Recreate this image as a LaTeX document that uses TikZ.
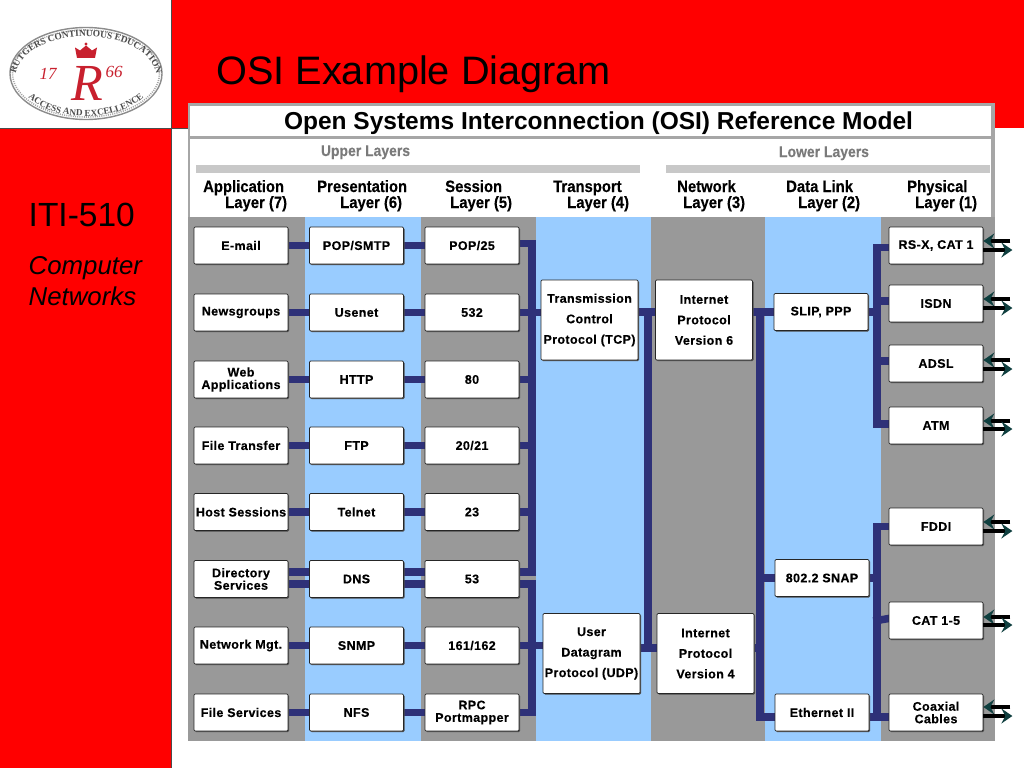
\documentclass[tikz,border=0pt]{standalone}
\usepackage{fontspec}
\setmainfont{Liberation Sans}
\newfontfamily\lab[LetterSpace=3,FakeBold=0.3]{Liberation Sans Bold}
\newfontfamily\hdrf[FakeStretch=0.9,FakeBold=0.2]{Liberation Sans Bold}
\newfontfamily\logof{Liberation Serif}
\usetikzlibrary{arrows.meta,shadows,decorations.text}
\pgfdeclarelayer{bglayer}
\pgfdeclarelayer{wirelayer}
\pgfsetlayers{bglayer,wirelayer,main}
\definecolor{slidered}{HTML}{FF0000}
\definecolor{colgray}{HTML}{999999}
\definecolor{colblue}{HTML}{99CCFF}
\definecolor{framegray}{HTML}{A6A6A6}
\definecolor{bargray}{HTML}{C8C8C8}
\definecolor{wire}{HTML}{2E3178}
\definecolor{tealtip}{HTML}{0F3F3F}
\definecolor{logored}{HTML}{C8202E}
\tikzset{
  osibox/.style={draw=black!85,line width=0.7pt,fill=white,rounded corners=1.2pt,
    inner sep=0pt,align=center,text=black,font=\lab\fontsize{12.5}{14.5}\selectfont,
    general shadow={shadow xshift=1pt,shadow yshift=-1pt,fill=black!70,rounded corners=1.2pt}},
  pbox/.style={osibox,minimum width=94pt,minimum height=37pt},
  tall/.style={osibox,minimum width=97pt,minimum height=80pt,font=\lab\fontsize{12.5}{20.5}\selectfont},
  hdr/.style={anchor=base west,inner sep=0pt,align=left,font=\hdrf\fontsize{16.5}{16}\selectfont},
  sub/.style={anchor=base,inner sep=0pt,text=black!52,font=\hdrf\fontsize{15.5}{16}\selectfont},
  link/.style={draw=wire,line width=7.5pt,line join=miter,line cap=rect},
  sig/.style={draw=black,line width=3.5pt,-{Stealth[length=11pt,width=15pt,inset=4pt,color=tealtip]}},
  slidetxt/.style={anchor=base west,inner sep=0pt,text=black},
  logotext/.style={decorate,decoration={text along path,text align=center,raise=0pt}},
}
\newcommand{\sigpair}[3]{%
  \draw[sig] ([yshift=#2]#1.east) ++(27pt,0) -- ([yshift=#2]#1.east);
  \draw[sig] ([yshift=#3]#1.east) -- ++(29pt,0);
}
\begin{document}
\begin{tikzpicture}[x=1pt,y=-1pt]
\useasboundingbox (0,0) rectangle (1024,768);
\begin{pgfonlayer}{bglayer}
\fill[white] (0,0) rectangle (1024,768);
\fill[slidered] (171,0) rectangle (1024,128);
\fill[slidered] (0,128) rectangle (171,768);
\draw[black!70,line width=0.6pt] (171,0) -- (171,768) (0,128) -- (188,128);
\fill[framegray] (188,103) rectangle (995,217);
\fill[white] (190,106) rectangle (991,136);
\fill[white] (190,139) rectangle (991,217);
\fill[bargray] (196,165) rectangle (640,173);
\fill[bargray] (666,165) rectangle (990,173);
\fill[colgray] (188,217) rectangle (305,741);
\fill[colblue] (305,217) rectangle (421,741);
\fill[colgray] (421,217) rectangle (536,741);
\fill[colblue] (536,217) rectangle (651,741);
\fill[colgray] (651,217) rectangle (765,741);
\fill[colblue] (765,217) rectangle (881,741);
\fill[colgray] (881,217) rectangle (995,741);
\end{pgfonlayer}
\node[slidetxt,font=\fontsize{39.7}{40}\selectfont] (title) at (216,84) {OSI Example Diagram};
\node[slidetxt,font=\fontsize{33.5}{36}\selectfont] (course) at (28.5,226) {ITI-510};
\node[slidetxt,font=\itshape\fontsize{25.8}{31}\selectfont] (cname) at (28.5,274) {Computer};
\node[slidetxt,font=\itshape\fontsize{25.8}{31}\selectfont] (cname2) at (28.5,305) {Networks};
% logo
\draw[black!45,line width=1.4pt] (86,73.5) ellipse [x radius=76,y radius=46];
\draw[black!35,line width=1.6pt,dash pattern=on 1pt off 1.2pt] (86,73.5) ellipse [x radius=73.5,y radius=43.5];
\path[logotext,decoration={text={|\logof\bfseries\fontsize{9.4}{9}\selectfont\color{black!70}|RUTGERS CONTINUOUS EDUCATION}}]
  (15,80) .. controls (17,22) and (155,22) .. (157,80);
\path[logotext,decoration={text={|\logof\bfseries\fontsize{9.2}{9}\selectfont\color{black!70}|ACCESS AND EXCELLENCE}}]
  (22,90) .. controls (46,125) and (126,125) .. (150,90);
\fill[logored] (77,58) -- (75,47.5) -- (80,50.5) -- (86,45.5) -- (92,50.5) -- (97,47.5) -- (95,58) -- cycle;
\fill[logored] (86,44) circle (1.6pt);
\node[inner sep=0pt,text=logored,font=\logof\itshape\fontsize{17}{17}\selectfont] (l17) at (48,74) {17};
\node[inner sep=0pt,text=logored,font=\logof\itshape\fontsize{17}{17}\selectfont] (l66) at (114,72) {66};
\node[inner sep=0pt,text=logored,font=\logof\itshape\fontsize{52}{52}\selectfont] (lR) at (87,83) {R};
% panel texts
\node[anchor=base,inner sep=0pt,font=\bfseries\fontsize{24.5}{26}\selectfont] (head) at (598.5,129) {Open Systems Interconnection (OSI) Reference Model};
\node[sub] (upper) at (365.5,156) {Upper Layers};
\node[sub] (lower) at (824,157) {Lower Layers};
\node[hdr] (h7) at (203,208) {Application\\\hspace*{22pt}Layer (7)};
\node[hdr] (h6) at (317,208) {Presentation\\\hspace*{23pt}Layer (6)};
\node[hdr] (h5) at (445,208) {Session\\\hspace*{5pt}Layer (5)};
\node[hdr] (h4) at (553,208) {Transport\\\hspace*{14pt}Layer (4)};
\node[hdr] (h3) at (677,208) {Network\\\hspace*{6pt}Layer (3)};
\node[hdr] (h2) at (786,208) {Data Link\\\hspace*{12pt}Layer (2)};
\node[hdr] (h1) at (907,208) {Physical\\\hspace*{8pt}Layer (1)};
% boxes
\node[pbox] (a1) at (241,245.5) {E-mail};
\node[pbox] (a2) at (241,312.5) {Newsgroups};
\node[pbox] (a3) at (241,379.5) {Web\\[-2pt]Applications};
\node[pbox] (a4) at (241,445.5) {File Transfer};
\node[pbox] (a5) at (241,512) {Host Sessions};
\node[pbox] (a6) at (241,579) {Directory\\[-2pt]Services};
\node[pbox] (a7) at (241,645.5) {Network Mgt.};
\node[pbox] (a8) at (241,712.5) {File Services};
\node[pbox] (b1) at (356.5,245.5) {POP/SMTP};
\node[pbox] (b2) at (356.5,312.5) {Usenet};
\node[pbox] (b3) at (356.5,379.5) {HTTP};
\node[pbox] (b4) at (356.5,445.5) {FTP};
\node[pbox] (b5) at (356.5,512) {Telnet};
\node[pbox] (b6) at (356.5,579) {DNS};
\node[pbox] (b7) at (356.5,645.5) {SNMP};
\node[pbox] (b8) at (356.5,712.5) {NFS};
\node[pbox] (c1) at (472,245.5) {POP/25};
\node[pbox] (c2) at (472,312.5) {532};
\node[pbox] (c3) at (472,379.5) {80};
\node[pbox] (c4) at (472,445.5) {20/21};
\node[pbox] (c5) at (472,512) {23};
\node[pbox] (c6) at (472,579) {53};
\node[pbox] (c7) at (472,645.5) {161/162};
\node[pbox] (c8) at (472,712.5) {RPC\\[-2pt]Portmapper};
\node[tall] (tcp) at (589.5,320) {Transmission\\Control\\Protocol (TCP)};
\node[tall] (udp) at (591.5,653.5) {User\\Datagram\\Protocol (UDP)};
\node[tall] (ip6) at (704,320) {Internet\\Protocol\\Version 6};
\node[tall] (ip4) at (705.5,653.5) {Internet\\Protocol\\Version 4};
\node[pbox] (slip) at (821,312) {SLIP, PPP};
\node[pbox] (snap) at (822,578) {802.2 SNAP};
\node[pbox] (eth) at (822,712.5) {Ethernet II};
\node[pbox] (p1) at (936,245.5) {RS-X, CAT 1};
\node[pbox] (p2) at (936,303.5) {ISDN};
\node[pbox] (p3) at (936,363.5) {ADSL};
\node[pbox] (p4) at (936,425.5) {ATM};
\node[pbox] (p5) at (936,526.5) {FDDI};
\node[pbox] (p6) at (936,620.5) {CAT 1-5};
\node[pbox] (p7) at (936,712.5) {Coaxial\\[-2pt]Cables};
% bus end points
\coordinate (busA) at (532,572);
\coordinate (busB) at (532,584);
\coordinate (busC) at (648,648);
\coordinate (busD) at (760,717);
\coordinate (busE) at (877,424);
\coordinate (busF) at (877,717);
\begin{pgfonlayer}{wirelayer}
\foreach \n in {1,2,3,4,5,7,8}{
  \draw[link] (a\n.east) -- (b\n.west);
  \draw[link] (b\n.east) -- (c\n.west);
}
\foreach \s in {7,-5}{
  \draw[link] ([yshift=\s pt]a6.east) -- ([yshift=\s pt]b6.west);
  \draw[link] ([yshift=\s pt]b6.east) -- ([yshift=\s pt]c6.west);
}
% transport buses
\draw[link] ([yshift=2pt]c1.east) -| (busA);
\foreach \n in {3,4,5}{\draw[link] (c\n.east) -- (c\n.east -| busA);}
\draw[link] ([yshift=7pt]c6.east) -- ([yshift=7pt]c6.east -| busA);
\draw[link] ([yshift=-5pt]c6.east) -- ([yshift=-5pt]c6.east -| busB) -- (busB |- c8.east) -- (c8.east);
\draw[link] (c7.east) -- (c7.east -| udp.west);
\draw[link] (c2.east) -- (c2.east -| tcp.west);
% network buses
\draw[link] (tcp.east |- 0,312) -- (ip6.west |- 0,312);
\draw[link] (udp.east |- busC) -- (ip4.west |- busC);
\draw[link] (busC |- 0,312) -- (busC);
% datalink buses
\draw[link] (ip6.east |- 0,312) -- (slip.west |- 0,312);
\draw[link] (ip4.east |- busC) -- (busD |- busC);
\draw[link] (busD |- 0,312) -- (busD) -- ([yshift=-4.5pt]eth.west);
\draw[link] (busD |- snap.west) -- (snap.west);
% physical buses
\draw[link] (slip.east) -- (slip.east -| busE);
\draw[link] ([yshift=-2pt]p1.west) -| (busE) -- (p4.west |- busE);
\draw[link] (busE |- 0,301) -- (p2.west |- 0,301);
\draw[link] (busE |- 0,361) -- (p3.west |- 0,361);
\draw[link] (p5.west) -| (busF);
\draw[link] (busF |- p6.west) -- ([yshift=2pt]p6.west);
\draw[link] (snap.east) -- (snap.east -| busF);
\draw[link] ([yshift=-4.5pt]eth.east) -- ([yshift=-4.5pt]p7.west);
\end{pgfonlayer}
\sigpair{p1}{4.5pt}{-4.5pt}
\sigpair{p2}{4.5pt}{-4.5pt}
\sigpair{p3}{3.5pt}{-5.5pt}
\sigpair{p4}{4.5pt}{-3.5pt}
\sigpair{p5}{4.5pt}{-4.5pt}
\sigpair{p6}{3.5pt}{-4.5pt}
\sigpair{p7}{5.5pt}{-3.5pt}
\end{tikzpicture}
\end{document}
